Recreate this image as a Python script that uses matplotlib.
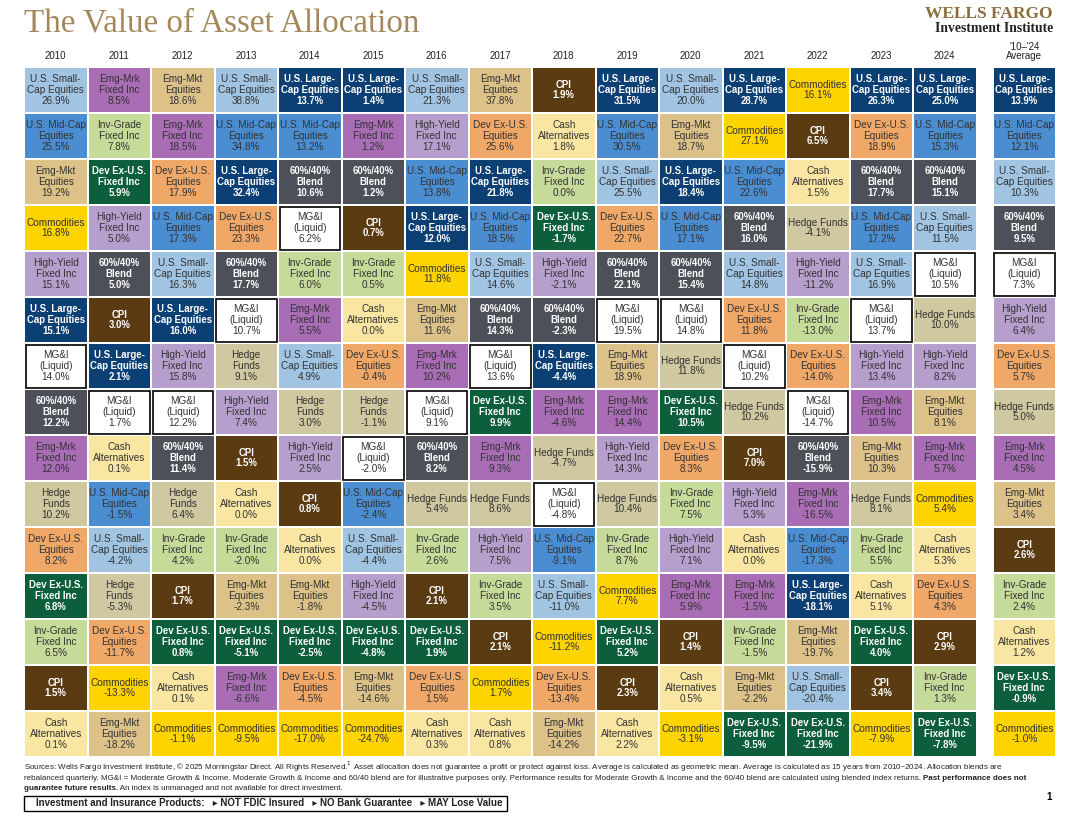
import matplotlib
matplotlib.use("Agg")
import matplotlib.pyplot as plt
from matplotlib.patches import Rectangle

years = ["2010","2011","2012","2013","2014","2015","2016","2017","2018","2019","2020","2021","2022","2023","2024","'10–'24\nAverage"]

ranks_2010 = ["SC","MC","EME","COM","HY","LC","MGI","B64","EMF","HF","DXE","DXF","IG","CPI","CASH"]
vals_2010 = [26.9,25.5,19.2,16.8,15.1,15.1,14.0,12.2,12.0,10.2,8.2,6.8,6.5,1.5,0.1]
ranks_2011 = ["EMF","IG","DXF","HY","B64","CPI","LC","MGI","CASH","MC","SC","HF","DXE","COM","EME"]
vals_2011 = [8.5,7.8,5.9,5.0,5.0,3.0,2.1,1.7,0.1,-1.5,-4.2,-5.3,-11.7,-13.3,-18.2]
ranks_2012 = ["EME","EMF","DXE","MC","SC","LC","HY","MGI","B64","HF","IG","CPI","DXF","CASH","COM"]
vals_2012 = [18.6,18.5,17.9,17.3,16.3,16.0,15.8,12.2,11.4,6.4,4.2,1.7,0.8,0.1,-1.1]
ranks_2013 = ["SC","MC","LC","DXE","B64","MGI","HF","HY","CPI","CASH","IG","EME","DXF","EMF","COM"]
vals_2013 = [38.8,34.8,32.4,23.3,17.7,10.7,9.1,7.4,1.5,0.0,-2.0,-2.3,-5.1,-6.6,-9.5]
ranks_2014 = ["LC","MC","B64","MGI","IG","EMF","SC","HF","HY","CPI","CASH","EME","DXF","DXE","COM"]
vals_2014 = [13.7,13.2,10.6,6.2,6.0,5.5,4.9,3.0,2.5,0.8,0.0,-1.8,-2.5,-4.5,-17.0]
ranks_2015 = ["LC","EMF","B64","CPI","IG","CASH","DXE","HF","MGI","MC","SC","HY","DXF","EME","COM"]
vals_2015 = [1.4,1.2,1.2,0.7,0.5,0.0,-0.4,-1.1,-2.0,-2.4,-4.4,-4.5,-4.8,-14.6,-24.7]
ranks_2016 = ["SC","HY","MC","LC","COM","EME","EMF","MGI","B64","HF","IG","CPI","DXF","DXE","CASH"]
vals_2016 = [21.3,17.1,13.8,12.0,11.8,11.6,10.2,9.1,8.2,5.4,2.6,2.1,1.9,1.5,0.3]
ranks_2017 = ["EME","DXE","LC","MC","SC","B64","MGI","DXF","EMF","HF","HY","IG","CPI","COM","CASH"]
vals_2017 = [37.8,25.6,21.8,18.5,14.6,14.3,13.6,9.9,9.3,8.6,7.5,3.5,2.1,1.7,0.8]
ranks_2018 = ["CPI","CASH","IG","DXF","HY","B64","LC","EMF","HF","MGI","MC","SC","COM","DXE","EME"]
vals_2018 = [1.9,1.8,0.0,-1.7,-2.1,-2.3,-4.4,-4.6,-4.7,-4.8,-9.1,-11.0,-11.2,-13.4,-14.2]
ranks_2019 = ["LC","MC","SC","DXE","B64","MGI","EME","EMF","HY","HF","IG","COM","DXF","CPI","CASH"]
vals_2019 = [31.5,30.5,25.5,22.7,22.1,19.5,18.9,14.4,14.3,10.4,8.7,7.7,5.2,2.3,2.2]
ranks_2020 = ["SC","EME","LC","MC","B64","MGI","HF","DXF","DXE","IG","HY","EMF","CPI","CASH","COM"]
vals_2020 = [20.0,18.7,18.4,17.1,15.4,14.8,11.8,10.5,8.3,7.5,7.1,5.9,1.4,0.5,-3.1]
ranks_2021 = ["LC","COM","MC","B64","SC","DXE","MGI","HF","CPI","HY","CASH","EMF","IG","EME","DXF"]
vals_2021 = [28.7,27.1,22.6,16.0,14.8,11.8,10.2,10.2,7.0,5.3,0.0,-1.5,-1.5,-2.2,-9.5]
ranks_2022 = ["COM","CPI","CASH","HF","HY","IG","DXE","MGI","B64","EMF","MC","LC","EME","SC","DXF"]
vals_2022 = [16.1,6.5,1.5,-4.1,-11.2,-13.0,-14.0,-14.7,-15.9,-16.5,-17.3,-18.1,-19.7,-20.4,-21.9]
ranks_2023 = ["LC","DXE","B64","MC","SC","MGI","HY","EMF","EME","HF","IG","CASH","DXF","CPI","COM"]
vals_2023 = [26.3,18.9,17.7,17.2,16.9,13.7,13.4,10.5,10.3,8.1,5.5,5.1,4.0,3.4,-7.9]
ranks_2024 = ["LC","MC","B64","SC","MGI","HF","HY","EME","EMF","COM","CASH","DXE","CPI","IG","DXF"]
vals_2024 = [25.0,15.3,15.1,11.5,10.5,10.0,8.2,8.1,5.7,5.4,5.3,4.3,2.9,1.3,-7.8]
ranks_avg = ["LC","MC","SC","B64","MGI","HY","DXE","HF","EMF","EME","CPI","IG","CASH","DXF","COM"]
vals_avg = [13.9,12.1,10.3,9.5,7.3,6.4,5.7,5.0,4.5,3.4,2.6,2.4,1.2,-0.9,-1.0]

columns = [(ranks_2010,vals_2010),(ranks_2011,vals_2011),(ranks_2012,vals_2012),(ranks_2013,vals_2013),
           (ranks_2014,vals_2014),(ranks_2015,vals_2015),(ranks_2016,vals_2016),(ranks_2017,vals_2017),
           (ranks_2018,vals_2018),(ranks_2019,vals_2019),(ranks_2020,vals_2020),(ranks_2021,vals_2021),
           (ranks_2022,vals_2022),(ranks_2023,vals_2023),(ranks_2024,vals_2024),(ranks_avg,vals_avg)]

labels = {
    "SC": "U.S. Small-\nCap Equities", "MC": "U.S. Mid-Cap\nEquities", "LC": "U.S. Large-\nCap Equities",
    "EME": "Emg-Mkt\nEquities", "EMF": "Emg-Mrk\nFixed Inc", "DXE": "Dev Ex-U.S.\nEquities",
    "DXF": "Dev Ex-U.S.\nFixed Inc", "COM": "Commodities", "CPI": "CPI", "CASH": "Cash\nAlternatives",
    "IG": "Inv-Grade\nFixed Inc", "HY": "High-Yield\nFixed Inc", "B64": "60%/40%\nBlend",
    "MGI": "MG&I\n(Liquid)", "HF": "Hedge Funds",
}
colors = {
    "SC": "#a0c4e2", "MC": "#4a8dd0", "LC": "#0c3f73", "EME": "#dcc189", "EMF": "#a86db4",
    "DXE": "#f0a868", "DXF": "#0d5e3a", "COM": "#fdd300", "CPI": "#5a3b12", "CASH": "#f9e6a3",
    "IG": "#c6db99", "HY": "#b79fcd", "B64": "#4d5059", "MGI": "#ffffff", "HF": "#cfc8a0",
}
white_text = {"LC", "DXF", "CPI", "B64"}

W, H = 1078, 816
fig = plt.figure(figsize=(W/100, H/100), dpi=100)
ax = fig.add_axes([0, 0, 1, 1])
ax.set_xlim(0, W); ax.set_ylim(H, 0); ax.axis("off")

x0, y0, cw, rh = 24, 67, 63.5, 46.0
font = ["Liberation Sans", "DejaVu Sans"]
for ci, (ranks, vals) in enumerate(columns):
    cx = x0 + ci*cw + (16 if ci == 15 else 0)
    ax.text(cx + cw/2, y0 - 6, years[ci], ha="center", va="bottom", fontsize=7,
            family=font, color="#222", linespacing=0.85)
    for ri, (code, v) in enumerate(zip(ranks, vals)):
        ry = y0 + ri*rh
        if code == "MGI":
            ax.add_patch(Rectangle((cx+1.5, ry+1.5), cw-3, rh-3, facecolor="white", edgecolor="black", lw=1.2))
        else:
            ax.add_patch(Rectangle((cx+1, ry+1), cw-2, rh-2, facecolor=colors[code], edgecolor="none"))
        lab = labels[code]
        if code == "HF" and ci < 6:
            lab = "Hedge\nFunds"
        wt = code in white_text
        ax.text(cx + cw/2, ry + rh/2, f"{lab}\n{v:.1f}%", ha="center", va="center",
                fontsize=6.9 if wt else 7.2, family=font, color="white" if wt else "#333",
                fontweight="bold" if wt else "normal", linespacing=1.1)

ax.text(24, 32, "The Value of Asset Allocation", fontsize=23.8, family=["Liberation Serif", "DejaVu Serif"],
        color="#a4875a", va="baseline")
ax.text(1053, 18, "WELLS FARGO", fontsize=12.5, family=["Liberation Serif"], fontweight="bold",
        color="#8a6d3b", ha="right", va="baseline")
ax.text(1053, 32, "Investment Institute", fontsize=9.8, family=["Liberation Serif"], fontweight="bold",
        color="#222", ha="right", va="baseline")

fs = 5.75
ax.text(24, 767, "Sources: Wells Fargo Investment Institute, © 2025 Morningstar Direct. All Rights Reserved.$^1$ Asset allocation does not guarantee a profit or protect against loss. Average is calculated as geometric mean. Average is calculated as 15 years from 2010–2024. Allocation blends are",
        fontsize=fs, family=font, va="center", color="#222")
t = ax.text(24, 778, "rebalanced quarterly. MG&I = Moderate Growth & Income. Moderate Growth & Income and 60/40 blend are for illustrative purposes only. Performance results for Moderate Growth & Income and the 60/40 blend are calculated using blended index returns. ",
        fontsize=fs, family=font, va="center", color="#222")
ax.annotate("Past performance does not", xycoords=t, xy=(1, 0.5), va="center", fontsize=fs,
            family=font, fontweight="bold", color="#222")
t2 = ax.text(24, 789, "guarantee future results.", fontsize=fs, family=font, fontweight="bold", va="center", color="#222")
ax.annotate(" An index is unmanaged and not available for direct investment.", xycoords=t2, xy=(1, 0.5),
            va="center", fontsize=fs, family=font, color="#222")

ax.add_patch(Rectangle((24, 796), 483, 15, facecolor="white", edgecolor="black", lw=1))
ax.text(36, 803.5, "Investment and Insurance Products:   ▸ NOT FDIC Insured   ▸ NO Bank Guarantee   ▸ MAY Lose Value",
        fontsize=7.0, family=["Liberation Sans", "DejaVu Sans"], fontweight="bold", va="center", color="#222")
ax.text(1052, 797, "1", fontsize=7, family=font, fontweight="bold", ha="right", va="center")

fig.savefig("out.png", dpi=100)
